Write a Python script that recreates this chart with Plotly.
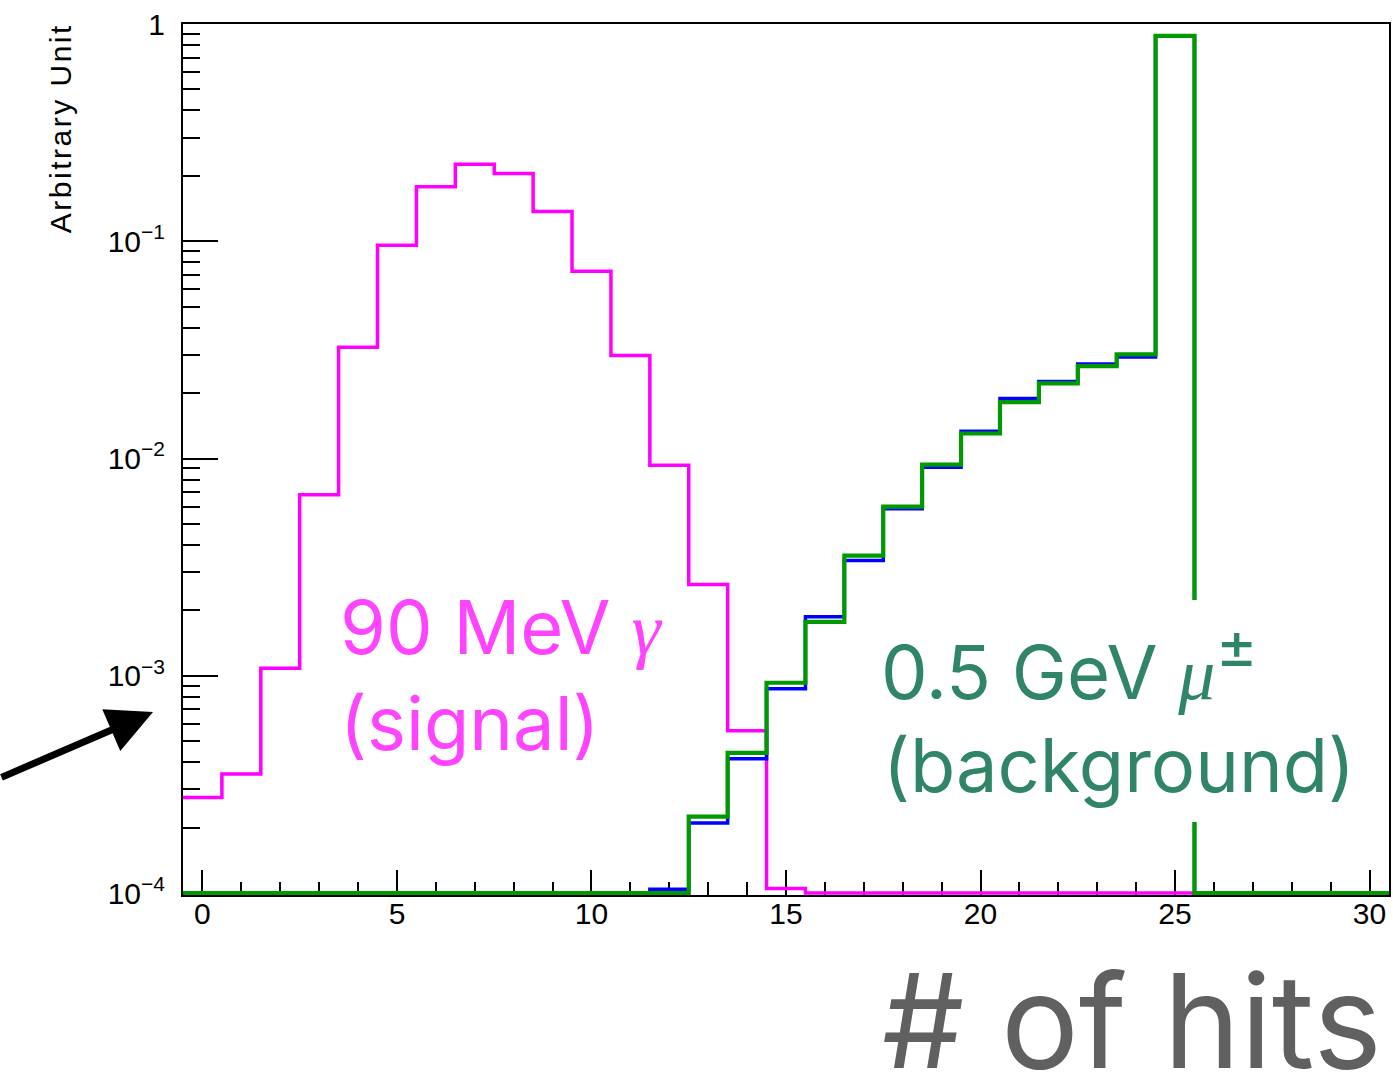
import plotly.graph_objects as go

# Number of hits per event (bin centres, unit-width bins)
n_hits = list(range(31))

# 90 MeV photon (signal), normalised
signal_gamma = [2.75e-4, 3.53e-4, 1.084e-3, 6.82e-3, 3.25e-2, 9.58e-2, 0.178, 0.226,
                0.205, 0.137, 0.0728, 0.0298, 0.0093, 2.63e-3, 5.58e-4, 1.05e-4,
                0, 0, 0, 0, 0, 0, 0, 0, 0, 0, 0, 0, 0, 0, 0]

# 0.5 GeV muons (background), two samples, normalised
background_1 = [0, 0, 0, 0, 0, 0, 0, 0, 0, 0, 0, 0, 1.04e-4, 2.10e-4, 4.15e-4, 8.71e-4,
                1.87e-3, 3.39e-3, 5.88e-3, 9.12e-3, 1.336e-2, 1.889e-2, 2.264e-2,
                2.721e-2, 2.931e-2, 0.879, 0, 0, 0, 0, 0]
background_2 = [0, 0, 0, 0, 0, 0, 0, 0, 0, 0, 0, 0, 0, 2.25e-4, 4.42e-4, 9.29e-4,
                1.77e-3, 3.57e-3, 6.01e-3, 9.38e-3, 1.304e-2, 1.817e-2, 2.218e-2,
                2.663e-2, 3.016e-2, 0.881, 0, 0, 0, 0, 0]

y_ticks = [1e-4, 1e-3, 1e-2, 1e-1, 1]
y_tick_text = ["10<sup>\u22124</sup>", "10<sup>\u22123</sup>", "10<sup>\u22122</sup>",
               "10<sup>\u22121</sup>", "1"]

Y_FLOOR = 1e-4  # empty bins are drawn on the lower edge of the frame

W, H = 1393, 1074
ML, MR, MT, MB = 183, 2, 24, 179
PW, PH = W - ML - MR, H - MT - MB


def step_xy(values):
    edges = [c - 0.5 for c in n_hits] + [n_hits[-1] + 0.5]
    ys = [v if v > 0 else Y_FLOOR for v in values]
    return edges, ys + [ys[-1]]


def px(x):
    return (x - ML) / PW


def py(y):
    return (H - MB - y) / PH


fig = go.Figure()
for vals, color, width in [(signal_gamma, "#ff00ff", 3.5),
                           (background_1, "#0000ff", 3.5),
                           (background_2, "#009900", 4.2)]:
    xs, ys = step_xy(vals)
    fig.add_trace(go.Scatter(x=xs, y=ys, mode="lines", line_shape="hv",
                             line=dict(color=color, width=width),
                             hoverinfo="skip", showlegend=False))

tick_font = dict(family="Liberation Sans, Arial, sans-serif", size=30, color="black")

minor_y = [k * 10.0 ** e for e in range(-4, 0) for k in range(2, 10)]

fig.update_layout(
    width=W, height=H,
    margin=dict(l=ML, r=MR, t=MT, b=MB, pad=0),
    paper_bgcolor="white", plot_bgcolor="white",
    showlegend=False,
    xaxis=dict(range=[-0.5, 30.5], showgrid=False, zeroline=False,
               showline=True, mirror=True, linecolor="black", linewidth=2,
               tickmode="linear", tick0=0, dtick=5,
               ticks="inside", ticklen=25, tickwidth=2, tickcolor="black",
               minor=dict(dtick=1, tick0=0, ticks="inside", ticklen=13,
                          tickwidth=2, tickcolor="black", showgrid=False),
               tickfont=tick_font, ticklabelstandoff=-9, layer="below traces"),
    yaxis=dict(type="log", range=[-4.009, 0], showgrid=False, zeroline=False,
               showline=True, mirror=True, linecolor="black", linewidth=2,
               tickmode="array", tickvals=y_ticks, ticktext=y_tick_text,
               ticks="inside", ticklen=35, tickwidth=2, tickcolor="black",
               minor=dict(tickmode="array", tickvals=minor_y, ticks="inside",
                          ticklen=17, tickwidth=2, tickcolor="black",
                          showgrid=False),
               tickfont=tick_font, ticklabelstandoff=10, layer="below traces"),
)

# White panel behind the background label, masking the histogram outline
fig.add_shape(type="rect", xref="paper", yref="paper", layer="above",
              x0=px(872), x1=px(1362), y0=py(822), y1=py(600),
              fillcolor="white", line=dict(width=0))

label_font = "Inter, 'Open Sans', sans-serif"
greek = "<span style=\"font-family:'Liberation Serif',serif;font-style:italic\">{}</span>"
bkg_color = "#2f8566"

annotations = [
    # y-axis title, aligned to the top of the axis
    dict(text="<span style=\"letter-spacing:2.5px\">Arbitrary Unit</span>",
         textangle=-90, xref="paper", yref="paper",
         x=px(60), y=py(128), xanchor="center", yanchor="middle", showarrow=False,
         font=dict(family="Liberation Sans, Arial, sans-serif", size=30, color="black")),
    # signal label
    dict(text="90 MeV " + greek.format("\u03b3") + "<br>(signal)",
         xref="paper", yref="paper", x=px(338), y=py(580),
         xanchor="left", yanchor="top", align="left", showarrow=False,
         font=dict(family=label_font, size=74, color="#ff44ff")),
    # background label, two lines
    dict(text="0.5 GeV " + greek.format("\u03bc")
         + "<sup><span style=\"font-size:64px\">\u00b1</span></sup>",
         xref="paper", yref="paper", x=px(881), y=py(718),
         xanchor="left", yanchor="bottom", align="left", showarrow=False,
         borderpad=0, font=dict(family=label_font, size=74, color=bkg_color)),
    dict(text="(background)",
         xref="paper", yref="paper", x=px(883), y=py(811),
         xanchor="left", yanchor="bottom", align="left", showarrow=False,
         borderpad=0, font=dict(family=label_font, size=74, color=bkg_color)),
    # x-axis title
    dict(text="# of hits", xref="paper", yref="paper", x=px(1386), y=py(1020),
         xanchor="right", yanchor="middle", showarrow=False,
         font=dict(family=label_font, size=130, color="#606060")),
    # pointer arrow
    dict(text="", xref="paper", yref="paper", x=px(153), y=py(712),
         ax=-170, ay=66, showarrow=True, arrowhead=2, arrowsize=1.3,
         arrowwidth=7, arrowcolor="black", standoff=0),
]
fig.update_layout(annotations=annotations)

fig.write_html("out.html")
